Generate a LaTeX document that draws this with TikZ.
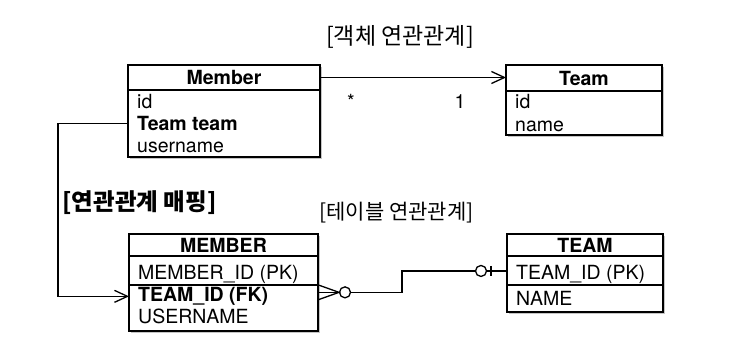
\documentclass[tikz,border=0pt]{standalone}
\usepackage{fontspec}
\setmainfont{TeX Gyre Heros}
\newfontfamily\kr{Noto Sans CJK KR}
\usetikzlibrary{arrows.meta,shadows}
\begin{document}
\begin{tikzpicture}[x=1pt,y=-1pt,
  box/.style={draw, line width=1.3pt, fill=white, inner sep=0pt, outer sep=0pt, anchor=north west,
    drop shadow={shadow xshift=1.6pt, shadow yshift=-1.6pt, fill=black!45}},
  hd/.style={box, font=\fontsize{19.5}{22}\selectfont\bfseries},
  row/.style={anchor=base west, inner sep=0pt, font=\fontsize{19.5}{22}\selectfont},
  conn/.style={line width=1.3pt},
  arr/.style={conn, -{Straight Barb[length=13pt,width=12pt]}},
  ttl/.style={inner sep=0pt}
]
\useasboundingbox (0,0) rectangle (751,356);

% object model
\node[hd, minimum width=192pt, minimum height=25pt] (memberhd) at (128,65) {Member};
\node[box, minimum width=192pt, minimum height=67pt] (memberbd) at (memberhd.south west) {};
\node[row] (mid) at (137,108) {id};
\node[row, font=\fontsize{19.5}{22}\selectfont\bfseries] (tt) at (137,130.5) {Team team};
\node[row] (muser) at (137,152) {username};

\node[hd, minimum width=156pt, minimum height=26pt] (teamhd) at (506,65) {Team};
\node[box, minimum width=156pt, minimum height=44pt] (teambd) at (teamhd.south west) {};
\node[row] (tid) at (515,108) {id};
\node[row] (tname) at (515,131) {name};

\node[row, anchor=base] (many) at (351,108) {*};
\node[row, anchor=base] (one) at (460,108) {1};

% tables
\node[hd, minimum width=189pt, minimum height=22pt] (membhd) at (129,234) {MEMBER};
\node[box, minimum width=189pt, minimum height=29pt] (membpk) at (membhd.south west) {};
\node[box, minimum width=189pt, minimum height=46pt] (membrest) at (membpk.south west) {};
\node[row] (mpk) at (138,279) {MEMBER\_ID (PK)};
\node[row, font=\fontsize{19.5}{22}\selectfont\bfseries] (fk) at (138,301.5) {TEAM\_ID (FK)};
\node[row] (muname) at (138,323.5) {USERNAME};

\node[hd, minimum width=156pt, minimum height=22pt] (teamthd) at (507,234) {TEAM};
\node[box, minimum width=156pt, minimum height=29pt] (teampk) at (teamthd.south west) {};
\node[box, minimum width=156pt, minimum height=27pt] (teamrest) at (teampk.south west) {};
\node[row] (pk) at (516,279) {TEAM\_ID (PK)};
\node[row] (tnm) at (516,305) {NAME};

% titles
\node[ttl, font=\kr\fontsize{23}{26}\selectfont] (t1) at (400,37) {[객체 연관관계]};
\node[ttl, font=\kr\bfseries\fontsize{23.5}{26}\selectfont] (t2) at (139.5,203) {[연관관계 매핑]};
\node[ttl, font=\kr\fontsize{21}{24}\selectfont] (t3) at (396.5,213) {[테이블 연관관계]};

% connectors
\draw[arr] (memberhd.east) -- (memberhd.east -| teamhd.west);
\draw[arr] (memberbd.west |- tt) -- ++(-70,0) |- (membrest.west |- fk);

\path (membrest.east |- fk) ++(0,-4) coordinate (fkA);
\path (teampk.west |- pk) ++(0,-3) coordinate (pkB);

\draw[conn] (fkA) ++(0,-7.5) -- ++(21,7.5) -- ++(-21,7.5);
\draw[conn] (fkA) -- ++(21,0);
\draw[conn] (fkA) ++(27,0) circle[radius=5.5];
\draw[conn] (fkA) ++(32.5,0) -- ++(51.5,0) |- ([xshift=-31.5pt]pkB);
\draw[conn] (pkB) ++(-26,0) circle[radius=5.5];
\draw[conn] (pkB) ++(-16,-5) -- ++(0,10);
\draw[conn] (pkB) ++(-20.5,0) -- (pkB);
\end{tikzpicture}
\end{document}
